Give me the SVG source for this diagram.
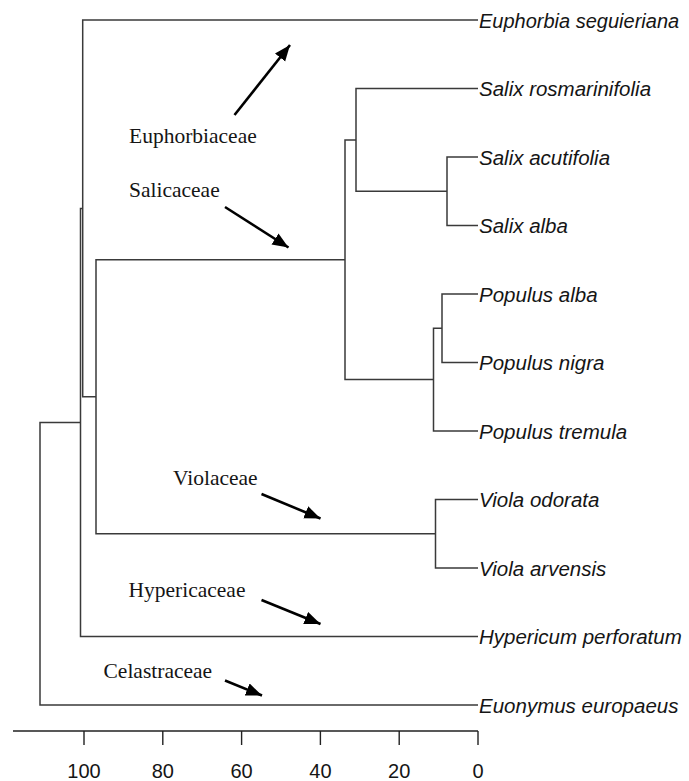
<svg xmlns="http://www.w3.org/2000/svg" width="689" height="781" viewBox="0 0 689 781">
<style>
.bg{fill:#ffffff}
.tree{fill:none;stroke:#3a3a3a;stroke-width:1.5}
.axis{fill:none;stroke:#222;stroke-width:1.4}
.leaf{font-family:"Liberation Sans",Arial,sans-serif;font-style:italic;font-size:20.5px;fill:#151515}
.fam{font-family:"Liberation Serif","Times New Roman",serif;font-size:21.5px;fill:#151515}
.num{font-family:"Liberation Sans",Arial,sans-serif;font-size:20px;fill:#151515;text-anchor:middle}
.arrow{fill:none;stroke:#000;stroke-width:2.6;marker-end:url(#ah)}
</style>
<defs>
<marker id="ah" markerUnits="userSpaceOnUse" markerWidth="18" markerHeight="14" refX="16" refY="6.5" orient="auto">
<path d="M0,0 L16,6.5 L0,13 Z" fill="#000"/>
</marker>
</defs>
<rect class="bg" x="0" y="0" width="689" height="781"/>
<g id="connectors">
<path class="tree" d="M478,157 H447 V225.5 H478"/>
<path class="tree" d="M478,88.5 H356 V191.25 H447"/>
<path class="tree" d="M478,294 H442 V362.5 H478"/>
<path class="tree" d="M442,328.25 H433.5 V431 H478"/>
<path class="tree" d="M356,139.9 H345 V379.6 H433.5"/>
<path class="tree" d="M478,499.5 H435.5 V568 H478"/>
<path class="tree" d="M345,259.75 H96 V533.75 H435.5"/>
<path class="tree" d="M478,20 H82.7 V396.75 H96"/>
<path class="tree" d="M82.7,208.4 H80.5 V636.5 H478"/>
<path class="tree" d="M80.5,422.4 H40 V705 H478"/>
</g>
<g id="leaf-euphorbia"><text class="leaf" x="479" y="27.5" style="font-size:20px">Euphorbia seguieriana</text></g>
<g id="leaf-salix-rosmarinifolia"><text class="leaf" x="479" y="96">Salix rosmarinifolia</text></g>
<g id="leaf-salix-acutifolia"><text class="leaf" x="479" y="164.5">Salix acutifolia</text></g>
<g id="leaf-salix-alba"><text class="leaf" x="479" y="233">Salix alba</text></g>
<g id="leaf-populus-alba"><text class="leaf" x="479" y="301.5">Populus alba</text></g>
<g id="leaf-populus-nigra"><text class="leaf" x="479" y="370">Populus nigra</text></g>
<g id="leaf-populus-tremula"><text class="leaf" x="479" y="438.5">Populus tremula</text></g>
<g id="leaf-viola-odorata"><text class="leaf" x="479" y="507">Viola odorata</text></g>
<g id="leaf-viola-arvensis"><text class="leaf" x="479" y="575.5">Viola arvensis</text></g>
<g id="leaf-hypericum"><text class="leaf" x="479" y="644">Hypericum perforatum</text></g>
<g id="leaf-euonymus"><text class="leaf" x="479" y="712.5">Euonymus europaeus</text></g>
<g id="fam-euphorbiaceae"><text class="fam" x="129" y="143">Euphorbiaceae</text><line class="arrow" x1="234.5" y1="115" x2="290" y2="45"/></g>
<g id="fam-salicaceae"><text class="fam" x="129" y="197">Salicaceae</text><line class="arrow" x1="225" y1="207" x2="288.5" y2="247.5"/></g>
<g id="fam-violaceae"><text class="fam" x="173" y="485">Violaceae</text><line class="arrow" x1="261.5" y1="494" x2="320.5" y2="518.5"/></g>
<g id="fam-hypericaceae"><text class="fam" x="128.5" y="597">Hypericaceae</text><line class="arrow" x1="261.5" y1="600" x2="320.5" y2="624"/></g>
<g id="fam-celastraceae"><text class="fam" x="103.5" y="677.5">Celastraceae</text><line class="arrow" x1="225" y1="680.5" x2="262" y2="695.5"/></g>
<g id="axis">
<path class="axis" d="M13,731 H478 M84,731 V745 M162.8,731 V745 M241.6,731 V745 M320.4,731 V745 M399.2,731 V745 M478,731 V745"/>
<text class="num" x="84" y="778">100</text>
<text class="num" x="162.8" y="778">80</text>
<text class="num" x="241.6" y="778">60</text>
<text class="num" x="320.4" y="778">40</text>
<text class="num" x="399.2" y="778">20</text>
<text class="num" x="478" y="778">0</text>
</g>
</svg>
